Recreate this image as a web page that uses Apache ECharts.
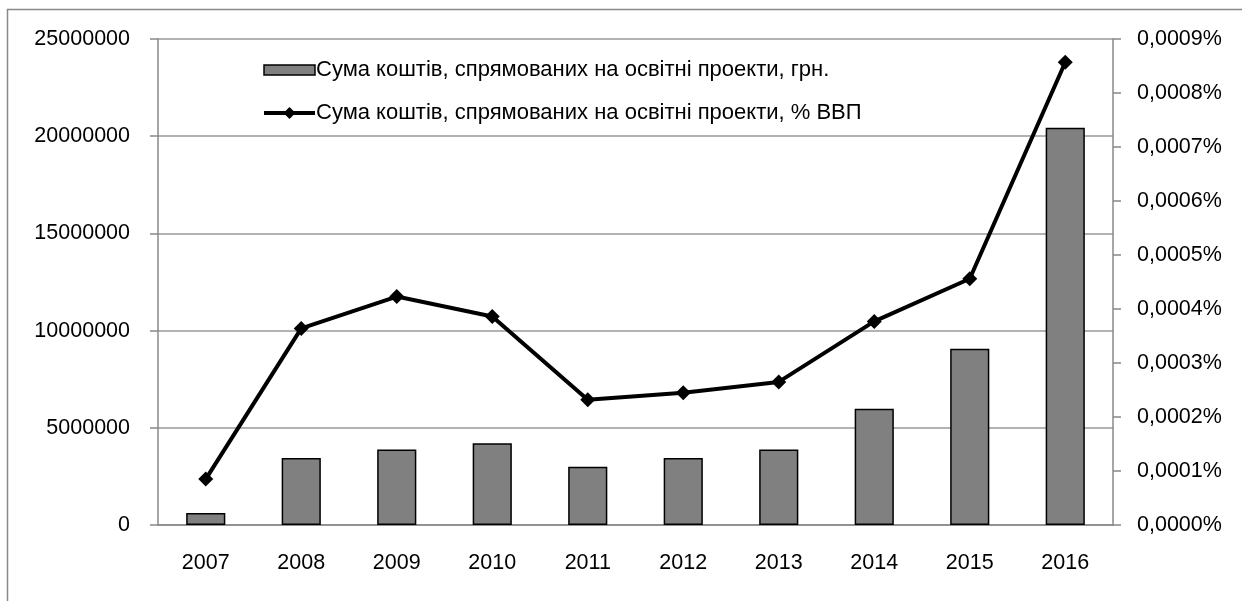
<!DOCTYPE html>
<html>
<head>
<meta charset="utf-8">
<title>Сума коштів на освітні проекти</title>
<script src="https://cdn.jsdelivr.net/npm/echarts@6/dist/echarts.min.js"></script>
<style>
  html, body { margin: 0; padding: 0; background: #fff; }
  #chart { width: 1242px; height: 601px; }
</style>
</head>
<body>
<div id="chart"></div>
<script>
var years = ['2007', '2008', '2009', '2010', '2011', '2012', '2013', '2014', '2015', '2016'];
// сума, грн.
var amountUah = [620000, 3450000, 3890000, 4200000, 3000000, 3450000, 3880000, 5980000, 9070000, 20430000];
// % ВВП
var shareGdp = [0.000085, 0.000364, 0.000423, 0.000386, 0.000232, 0.000245, 0.000265, 0.000377, 0.000456, 0.000857];

var barName = 'Сума коштів, спрямованих на освітні проекти, грн.';
var lineName = 'Сума коштів, спрямованих на освітні проекти, % ВВП';
var font = '"Liberation Sans", Arial, sans-serif';

var chart = echarts.init(document.getElementById('chart'));
chart.setOption({
  animation: false,
  textStyle: { fontFamily: font },
  graphic: [{
    type: 'rect',
    shape: { x: 7.5, y: 9.5, width: 1260, height: 620 },
    style: { fill: 'none', stroke: '#888', lineWidth: 1.5 },
    silent: true
  }],
  grid: { left: 158, right: 129, top: 39, bottom: 76 },
  legend: {
    left: 257,
    top: 54,
    orient: 'vertical',
    itemGap: 21,
    itemWidth: 51,
    itemHeight: 15,
    symbolKeepAspect: true,
    textStyle: { fontSize: 22, lineHeight: 15, color: '#000', fontFamily: font, padding: [0, 0, 0, -4] },
    data: [
      {
        name: barName,
        icon: 'path://M0,0h51v10h-51z',
        itemStyle: { color: '#808080', borderColor: '#000', borderWidth: 1.5 }
      },
      {
        name: lineName,
        lineStyle: { color: '#000', width: 4 },
        itemStyle: { color: '#000' }
      }
    ]
  },
  xAxis: {
    type: 'category',
    data: years,
    axisLine: { lineStyle: { color: '#888', width: 1.5 } },
    axisTick: { length: 8, inside: false, lineStyle: { color: '#888', width: 1.5 } },
    axisLabel: { fontSize: 21.5, color: '#000', margin: 27 }
  },
  yAxis: [{
    type: 'value',
    min: 0,
    max: 25000000,
    interval: 5000000,
    axisLine: { show: true, lineStyle: { color: '#888', width: 1.5 } },
    axisTick: { show: true, length: 8, lineStyle: { color: '#888', width: 1.5 } },
    splitLine: { lineStyle: { color: '#999', width: 1.5 } },
    axisLabel: {
      fontSize: 21.5, color: '#000', margin: 28,
      formatter: function (v) { return String(v); }
    }
  }, {
    type: 'value',
    min: 0,
    max: 0.0009,
    interval: 0.0001,
    position: 'right',
    axisLine: { show: true, lineStyle: { color: '#888', width: 1.5 } },
    axisTick: { show: true, length: 8, lineStyle: { color: '#888', width: 1.5 } },
    splitLine: { show: false },
    axisLabel: {
      fontSize: 21.5, color: '#000', margin: 24,
      formatter: function (v) { return v.toFixed(4).replace('.', ',') + '%'; }
    }
  }],
  series: [{
    name: barName,
    type: 'bar',
    data: amountUah,
    barWidth: '41%',
    itemStyle: { color: '#808080', borderColor: '#000', borderWidth: 1.5 }
  }, {
    name: lineName,
    type: 'line',
    yAxisIndex: 1,
    data: shareGdp,
    symbol: 'diamond',
    symbolSize: 15,
    lineStyle: { color: '#000', width: 4 },
    itemStyle: { color: '#000' }
  }]
});
</script>
</body>
</html>
